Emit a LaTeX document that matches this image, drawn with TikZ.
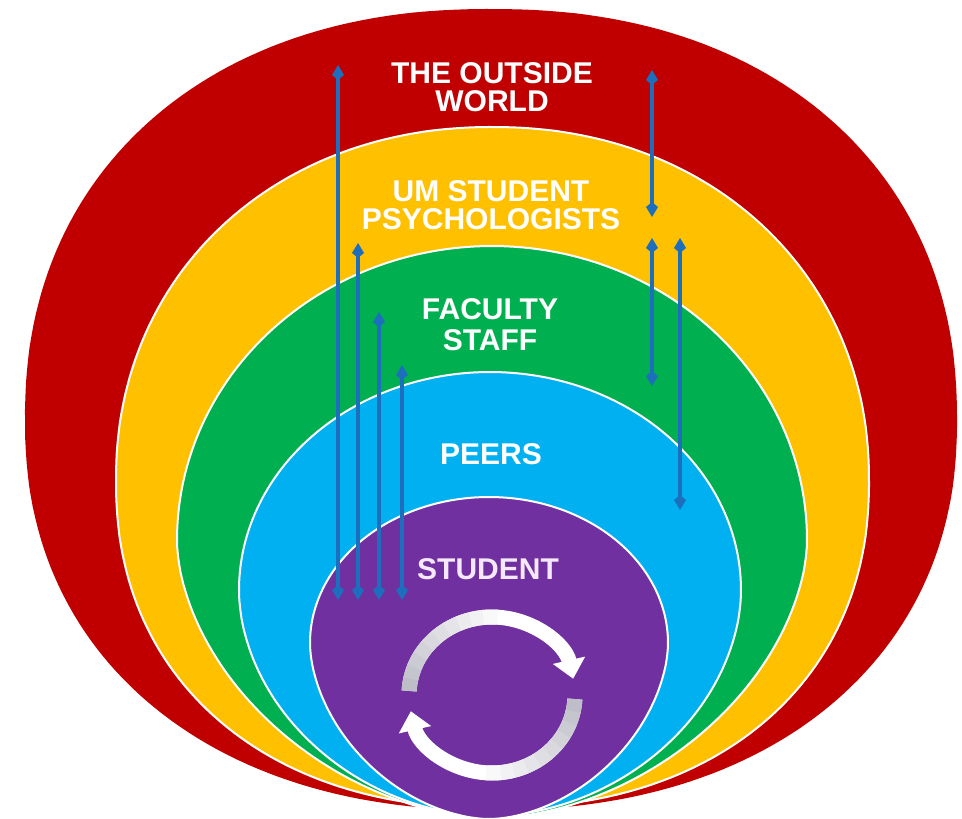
\documentclass[tikz,border=0pt]{standalone}
\usepackage{fontspec}
\setmainfont{Liberation Sans}
\usetikzlibrary{arrows.meta}

\definecolor{ringred}{HTML}{C00000}
\definecolor{ringyellow}{HTML}{FFC000}
\definecolor{ringgreen}{HTML}{00B050}
\definecolor{ringblue}{HTML}{00B0F0}
\definecolor{ringpurple}{HTML}{7030A0}
\definecolor{linkblue}{RGB}{30,110,190}
\definecolor{cyclegray}{RGB}{190,190,200}
\definecolor{studenttext}{RGB}{245,232,250}

% egg-shaped ring outline: centre x, centre y, half width,
% upper height, lower height, upper exponent, lower exponent
\newcommand{\eggring}[7]{%
  plot[domain=0.7:359.7, samples=240, variable=\t]
    ({#1+#3*eggx(\t,#6,#7)}, {#2+eggy(\t,#4,#5,#6,#7)}) -- cycle}

\begin{document}
\begin{tikzpicture}[x=1pt,y=-1pt,
  declare function={
    sgnpow(\c,\e)=(\c<0 ? -1 : 1)*pow(abs(\c)+0.000001,\e);
    eggx(\t,\nt,\nb)=sgnpow(cos(\t), (sin(\t)>0) ? 2/\nb : 2/\nt);
    eggy(\t,\rt,\rb,\nt,\nb)=(sin(\t)>0) ? \rb*sgnpow(sin(\t),2/\nb) : \rt*sgnpow(sin(\t),2/\nt);
  },
  ring/.style={draw=white, line width=2pt},
  lbl/.style={text=white, font=\bfseries\fontsize{30}{28}\selectfont, align=center, inner sep=0pt},
  link/.style={draw=linkblue, line width=4pt,
    {Kite[length=15pt,width=12pt,inset=5pt]}-{Kite[length=15pt,width=12pt,inset=5pt]}},
  cyc/.style={line width=15pt, draw=white},
  cychead/.style={-{Triangle[length=19pt,width=32pt]}}
]
\fill[white] (0,0) rectangle (962,819);
\useasboundingbox (0,0) rectangle (962,819);

% nested rings, outermost first
\path[fill=ringred]          \eggring{491}{420}{466}{411}{390}{2.2}{2.2};
\path[ring, fill=ringyellow] \eggring{492.5}{480}{376.5}{353}{328}{2.1}{2.2};
\path[ring, fill=ringgreen]  \eggring{492}{540}{315}{294}{278}{2}{1.8};
\path[ring, fill=ringblue]   \eggring{490}{590}{251}{218}{226}{2}{1.9};
\path[ring, fill=ringpurple] \eggring{489}{643}{179}{146}{176}{2}{1.8};

% ring labels
\node[lbl] (outside) at (492,87) {THE OUTSIDE\\WORLD};
\node[lbl] (psych) at (491,205) {UM STUDENT\\PSYCHOLOGISTS};
\node[lbl] (faculty) at (490,325) {FACULTY\\[3pt]STAFF};
\node[lbl] (peers) at (491,454) {PEERS};
\node[lbl, text=studenttext] (student) at (488,569) {STUDENT};

% end points of the two-way links
\coordinate (l1top) at (338,65);  \coordinate (l1bot) at (338,600);
\coordinate (l2top) at (358,243); \coordinate (l2bot) at (358,600);
\coordinate (l3top) at (379,312); \coordinate (l3bot) at (379,600);
\coordinate (l4top) at (402,365); \coordinate (l4bot) at (402,600);
\coordinate (r1top) at (652,70);  \coordinate (r1bot) at (652,217);
\coordinate (r2top) at (652,238); \coordinate (r2bot) at (652,386);
\coordinate (r3top) at (680,238); \coordinate (r3bot) at (680,510);

\foreach \a/\b in {l1bot/l1top, l2bot/l2top, l3bot/l3top, l4bot/l4top,
                   r1bot/r1top, r2bot/r2top, r3bot/r3top}
  \draw[link] (\a) -- (\b);

% self-reflection cycle inside the student core
\coordinate (cyc) at (492,695);
\draw[cyc, cychead] (cyc) ++(183:83 and 78)
  arc[start angle=183, end angle=348, x radius=83, y radius=78];
\draw[cyc, cychead] (cyc) ++(3:83 and 78)
  arc[start angle=3, end angle=168, x radius=83, y radius=78];
\foreach \i in {0,...,9} {
  \pgfmathtruncatemacro\p{\i*10}
  \pgfmathsetmacro\sa{183+\i*9}
  \pgfmathsetmacro\sb{3+\i*9}
  \draw[line width=15pt, white!\p!cyclegray] (cyc) ++(\sa:83 and 78)
    arc[start angle=\sa, end angle=\sa+10, x radius=83, y radius=78];
  \draw[line width=15pt, white!\p!cyclegray] (cyc) ++(\sb:83 and 78)
    arc[start angle=\sb, end angle=\sb+10, x radius=83, y radius=78];
}
\end{tikzpicture}
\end{document}
